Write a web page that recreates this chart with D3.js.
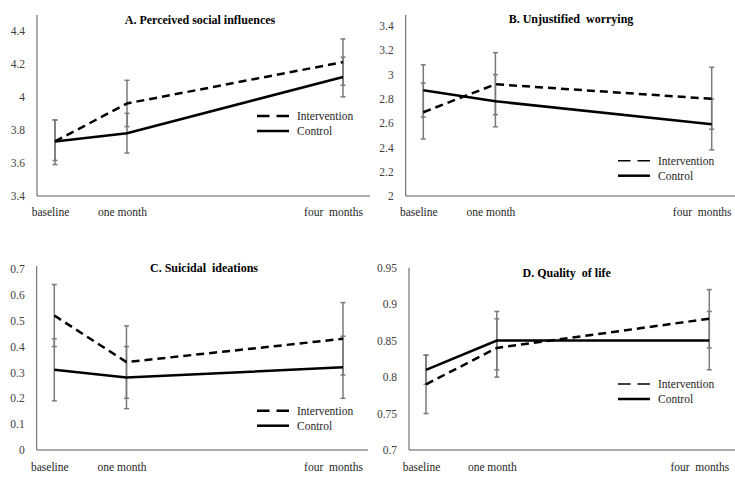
<!DOCTYPE html>
<html>
<head>
<meta charset="utf-8">
<script src="https://cdn.jsdelivr.net/npm/d3@7"></script>
<style>
  html, body { margin: 0; padding: 0; background: #fff; }
  svg, svg text { font-family: "Liberation Serif", "Times New Roman", Times, "DejaVu Serif", serif !important; }
</style>
</head>
<body>
<svg id="chart" width="735" height="479"></svg>
<script>
// ---------- DATA ----------
const timePoints = [0, 1, 4];               // months since baseline
const timeLabels = ["baseline", "one month", "four  months"];
const seriesNames = ["Intervention", "Control"];
const panelTitles = ["A. Perceived social influences", "B. Unjustified  worrying", "C. Suicidal  ideations", "D. Quality  of life"];

// A. Perceived social influences
const yTicksA = [3.4, 3.6, 3.8, 4, 4.2, 4.4];
const interventionA = [3.73, 3.96, 4.21];
const interventionLowA = [3.59, 3.82, 4.07];
const interventionHighA = [3.86, 4.10, 4.35];
const controlA = [3.73, 3.78, 4.12];
const controlLowA = [3.615, 3.66, 4.00];
const controlHighA = [3.86, 3.90, 4.24];

// B. Unjustified worrying
const yTicksB = [2, 2.2, 2.4, 2.6, 2.8, 3, 3.2, 3.4];
const interventionB = [2.69, 2.92, 2.80];
const interventionLowB = [2.47, 2.67, 2.55];
const interventionHighB = [2.93, 3.18, 3.06];
const controlB = [2.87, 2.78, 2.59];
const controlLowB = [2.65, 2.57, 2.38];
const controlHighB = [3.08, 3.00, 2.80];

// C. Suicidal ideations
const yTicksC = [0, 0.1, 0.2, 0.3, 0.4, 0.5, 0.6, 0.7];
const interventionC = [0.52, 0.34, 0.43];
const interventionLowC = [0.40, 0.20, 0.29];
const interventionHighC = [0.64, 0.48, 0.57];
const controlC = [0.31, 0.28, 0.32];
const controlLowC = [0.19, 0.16, 0.20];
const controlHighC = [0.43, 0.40, 0.44];

// D. Quality of life
const yTicksD = [0.7, 0.75, 0.8, 0.85, 0.9, 0.95];
const interventionD = [0.79, 0.84, 0.88];
const interventionLowD = [0.75, 0.80, 0.84];
const interventionHighD = [0.83, 0.88, 0.92];
const controlD = [0.81, 0.85, 0.85];
const controlLowD = [0.79, 0.81, 0.81];
const controlHighD = [0.83, 0.89, 0.89];

// ---------- LAYOUT (pixels) ----------
const panels = [
  { title: panelTitles[0], ticks: yTicksA,
    series: [[interventionA, interventionLowA, interventionHighA], [controlA, controlLowA, controlHighA]],
    axisX: 37, axisRight: 370, xFirst: 55, xLast: 343, yMaxPx: 30.7, yMinPx: 196, axisTop: 15,
    titleX: 200, titleY: 20, legX: 257, legY: 116, legThin: false, labelY: 212 },
  { title: panelTitles[1], ticks: yTicksB,
    series: [[interventionB, interventionLowB, interventionHighB], [controlB, controlLowB, controlHighB]],
    axisX: 405.7, axisRight: 735, xFirst: 423.3, xLast: 711.7, yMaxPx: 26, yMinPx: 196, axisTop: 15,
    titleX: 571, titleY: 19, legX: 618, legY: 160.7, legThin: true, labelY: 212 },
  { title: panelTitles[2], ticks: yTicksC,
    series: [[interventionC, interventionLowC, interventionHighC], [controlC, controlLowC, controlHighC]],
    axisX: 36.7, axisRight: 368, xFirst: 54.3, xLast: 343, yMaxPx: 269, yMinPx: 450, axisTop: 266,
    titleX: 204, titleY: 267.7, legX: 257, legY: 410.7, legThin: false, labelY: 467 },
  { title: panelTitles[3], ticks: yTicksD,
    series: [[interventionD, interventionLowD, interventionHighD], [controlD, controlLowD, controlHighD]],
    axisX: 409, axisRight: 735, xFirst: 426, xLast: 709.3, yMaxPx: 267.7, yMinPx: 450, axisTop: 267.7,
    titleX: 566.7, titleY: 272.7, legX: 618, legY: 384, legThin: true, labelY: 467 }
];

const FONT = "'Liberation Serif', 'Times New Roman', Times, 'DejaVu Serif', serif";
const labelShift = [-5, -5, -10];
const svg = d3.select("#chart");

panels.forEach(p => {
  const g = svg.append("g");
  const x = d3.scaleLinear().domain([0, 4]).range([p.xFirst, p.xLast]);
  const y = d3.scaleLinear().domain([d3.min(p.ticks), d3.max(p.ticks)]).range([p.yMinPx, p.yMaxPx]);

  // y axis labels
  const yAxis = d3.axisLeft(y).tickValues(p.ticks).tickSize(0).tickPadding(12).tickFormat(d => String(d));
  const yg = g.append("g").attr("transform", `translate(${p.axisX},0)`).call(yAxis)
    .attr("font-family", null).attr("font-size", null);
  yg.select(".domain").remove();
  yg.selectAll("text").style("font-family", FONT).style("font-size", "11.5px").attr("fill", "#404040");

  // x axis labels
  const xAxis = d3.axisBottom(x).tickValues(timePoints).tickSize(0).tickPadding(0)
    .tickFormat((d, i) => timeLabels[i]);
  const xg = g.append("g").attr("transform", `translate(0,${p.labelY})`).call(xAxis)
    .attr("font-family", null).attr("font-size", null);
  xg.select(".domain").remove();
  xg.selectAll("text").style("font-family", FONT).style("font-size", "11.5px").style("white-space", "pre")
    .attr("fill", "#262626")
    .attr("dy", "0.32em").attr("y", 0)
    .attr("dx", (d, i) => labelShift[i]);

  // axis lines
  g.append("line").attr("x1", p.axisX).attr("x2", p.axisX).attr("y1", p.axisTop).attr("y2", p.yMinPx)
    .attr("stroke", "#595959").attr("stroke-width", 1);
  g.append("line").attr("x1", p.axisX).attr("x2", p.axisRight).attr("y1", p.yMinPx).attr("y2", p.yMinPx)
    .attr("stroke", "#595959").attr("stroke-width", 1);

  // error bars
  p.series.forEach(s => {
    const [vals, lows, highs] = s;
    timePoints.forEach((t, i) => {
      const cx = x(t);
      g.append("line").attr("x1", cx).attr("x2", cx).attr("y1", y(lows[i])).attr("y2", y(highs[i]))
        .attr("stroke", "#7a7a7a").attr("stroke-width", 1.5);
      [lows[i], highs[i]].forEach(v => {
        g.append("line").attr("x1", cx - 2.5).attr("x2", cx + 2.5).attr("y1", y(v)).attr("y2", y(v))
          .attr("stroke", "#7a7a7a").attr("stroke-width", 1.5);
      });
    });
  });

  // lines
  const line = d3.line().x((d, i) => x(timePoints[i])).y(d => y(d));
  p.series.forEach((s, si) => {
    g.append("path").datum(s[0]).attr("d", line).attr("fill", "none")
      .attr("stroke", "#000").attr("stroke-width", 2.5)
      .attr("stroke-dasharray", si === 0 ? "8,5" : null);
  });

  // title
  g.append("text").attr("x", p.titleX).attr("y", p.titleY).attr("dy", "0.35em")
    .attr("text-anchor", "middle").style("font-family", FONT).style("font-weight", "bold").style("font-size", "12px")
    .style("white-space", "pre").attr("fill", "#000").text(p.title);

  // legend
  seriesNames.forEach((name, si) => {
    const ly = p.legY + si * 15;
    g.append("line").attr("x1", p.legX).attr("x2", p.legX + 32).attr("y1", ly).attr("y2", ly)
      .attr("stroke", "#000")
      .attr("stroke-width", si === 0 ? (p.legThin ? 1.5 : 2.5) : 2.5)
      .attr("stroke-dasharray", si === 0 ? "12.5,7" : null);
    g.append("text").attr("x", p.legX + 40).attr("y", ly).attr("dy", "0.35em")
      .style("font-family", FONT).style("font-size", "11.5px").attr("fill", "#262626").text(name);
  });
});
</script>
</body>
</html>
